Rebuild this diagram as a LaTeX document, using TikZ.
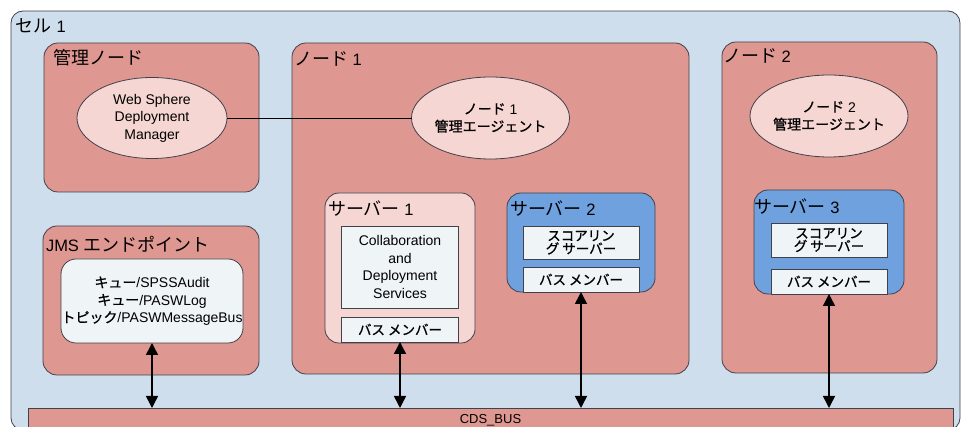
\documentclass[tikz,border=0pt]{standalone}
\usepackage{fontspec}
\setmainfont{Liberation Sans}
\newfontfamily\jafont{Noto Sans CJK JP}
\newfontfamily\jaboldfont[FakeBold=0.9]{Noto Sans CJK JP}
\newcommand\ja[1]{{\jaboldfont #1}}
\newcommand\jt[1]{{\jafont\fontsize{18}{20}\selectfont #1}}
\usetikzlibrary{arrows.meta,shapes.geometric}

\definecolor{cellblue}{RGB}{207,222,237}
\definecolor{salmon}{RGB}{223,151,145}
\definecolor{palepink}{RGB}{245,214,210}
\definecolor{srvblue}{RGB}{111,161,222}
\definecolor{paper}{RGB}{239,244,247}
\definecolor{edge}{RGB}{65,65,75}

\begin{document}
\begin{tikzpicture}[x=1pt,y=-1pt,
  every node/.style={inner sep=0pt, outer sep=0pt},
  frame/.style={draw=edge, line width=0.8pt, rounded corners=14pt},
  cellbox/.style={frame, fill=cellblue, rounded corners=12pt},
  hostbox/.style={frame, fill=salmon},
  srvpink/.style={frame, fill=palepink},
  srvblue/.style={frame, fill=srvblue},
  paperbox/.style={draw=edge, line width=0.8pt, fill=paper, align=center},
  agent/.style={ellipse, draw=edge, line width=0.8pt, fill=palepink, align=center,
    font=\fontsize{14}{17.5}\selectfont},
  title/.style={anchor=west, font=\fontsize{16.5}{20}\selectfont},
  small/.style={font=\fontsize{14}{17.5}\selectfont},
  bustext/.style={font=\fontsize{13.5}{13}\selectfont},
  link/.style={draw=black, line width=0.8pt},
  busarrow/.style={draw=black, line width=1.5pt,
    {Triangle[width=12pt,length=12pt]}-{Triangle[width=12pt,length=12pt]}}
]
\useasboundingbox (0,0) rectangle (967,427);
\clip (0,0) rectangle (967,427);

% cell
\node[cellbox, minimum width=949pt, minimum height=419pt] (cell) at (485.5,220.5) {};
\node[title] at (16,26) {\jt{セル} 1};

% management node
\node[hostbox, minimum width=215pt, minimum height=149pt] (mgmt) at (151.5,117.5) {};
\node[title] at (53,58) {\jt{管理ノード}};
\node[agent, minimum width=150pt, minimum height=81pt] (wsdm) at (152,118)
  {Web Sphere\\Deployment\\Manager};

% JMS endpoint
\node[hostbox, minimum width=216pt, minimum height=149pt] (jms) at (151,300.5) {};
\node[title] at (46,244) {JMS \jt{エンドポイント}};
\node[frame, fill=paper, rounded corners=15pt, minimum width=182pt, minimum height=84pt,
  align=center, small] (jmsq) at (152,301)
  {\ja{キュー}/SPSSAudit\\\ja{キュー}/PASWLog\\\ja{トピック}/PASWMessageBus};

% node 1
\node[hostbox, minimum width=397pt, minimum height=331pt] (node1) at (490.5,208.5) {};
\node[title] at (294,59) {\jt{ノード} 1};
\node[agent, minimum width=149pt, minimum height=82pt] (agent1) at (490.5,118)
  {\ja{ノード} 1\\\ja{管理エージェント}};

% server 1
\node[srvpink, minimum width=150pt, minimum height=150pt] (srv1) at (400,268) {};
\node[title] at (328,209) {\jt{サーバー} 1};
\node[paperbox, small, minimum width=117pt, minimum height=82pt] (cds) at (400,267)
  {Collaboration\\and\\Deployment\\Services};
\node[paperbox, bustext, minimum width=117pt, minimum height=25pt] (s1bus) at (400,329.5)
  {\ja{バス メンバー}};

% server 2
\node[srvblue, minimum width=148pt, minimum height=99pt] (srv2) at (581,242.5) {};
\node[title] at (510,209) {\jt{サーバー} 2};
\node[paperbox, bustext, minimum width=116pt, minimum height=33pt] (s2score) at (581,242.5)
  {\ja{スコアリン}\\\ja{グ サーバー}};
\node[paperbox, bustext, minimum width=116pt, minimum height=25pt] (s2bus) at (581,279.5)
  {\ja{バス メンバー}};

% node 2
\node[hostbox, minimum width=215pt, minimum height=331pt] (node2) at (829.5,207.5) {};
\node[title] at (723,56) {\jt{ノード} 2};
\node[agent, minimum width=150pt, minimum height=82pt] (agent2) at (829,116)
  {\ja{ノード} 2\\\ja{管理エージェント}};

% server 3
\node[srvblue, minimum width=150pt, minimum height=104pt] (srv3) at (829,242) {};
\node[title] at (754,207) {\jt{サーバー} 3};
\node[paperbox, bustext, minimum width=116pt, minimum height=34pt] (s3score) at (829,240)
  {\ja{スコアリン}\\\ja{グ サーバー}};
\node[paperbox, bustext, minimum width=116pt, minimum height=25pt] (s3bus) at (829,281.5)
  {\ja{バス メンバー}};

% bus
\node[draw=edge, line width=0.8pt, fill=salmon, minimum width=925pt, minimum height=24pt,
  font=\fontsize{13}{13}\selectfont] (bus) at (490.5,420) {CDS\_BUS};

% connectors
\draw[link] (wsdm.east) -- (agent1.west);
\draw[busarrow] (jmsq.south) -- (jmsq.south |- bus.north);
\draw[busarrow] (s1bus.south) -- (s1bus.south |- bus.north);
\draw[busarrow] (s2bus.south) -- (s2bus.south |- bus.north);
\draw[busarrow] (s3bus.south) -- (s3bus.south |- bus.north);
\end{tikzpicture}
\end{document}
